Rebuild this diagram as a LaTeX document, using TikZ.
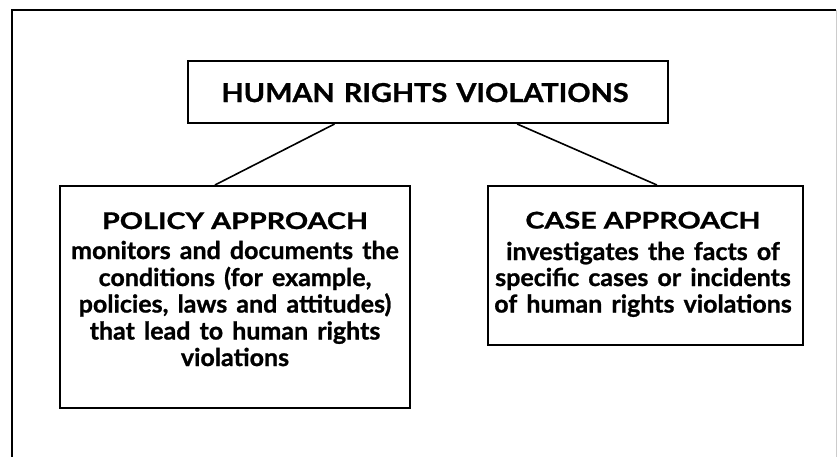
\documentclass[tikz,border=0pt]{standalone}
\usepackage{fontspec}
\setmainfont{Lato}
\newfontfamily\titlefam{Lato}[FakeStretch=1.11, WordSpace=1.3, BoldFeatures={FakeBold=1}]
\newfontfamily\headfam{Lato}[FakeStretch=1.25, BoldFeatures={FakeBold=1}]
\newfontfamily\bodyfam{Lato}[FakeStretch=1.02, WordSpace=1.5, BoldFeatures={FakeBold=1}]
\newcommand{\titlefnt}{\titlefam\bfseries\fontsize{26}{28}\selectfont}
\newcommand{\headfnt}{\headfam\bfseries\fontsize{23}{26}\selectfont}
\newcommand{\bodyfnt}{\bodyfam\bfseries\fontsize{24.5}{26.5}\selectfont}
\usetikzlibrary{calc}
\begin{document}
\begin{tikzpicture}[x=1pt,y=-1pt,
  boxnode/.style={draw=black, line width=2pt, fill=white, inner sep=0pt},
  titletext/.style={anchor=base, inner sep=0pt, font=\titlefnt},
  headtext/.style={anchor=base, inner sep=0pt, font=\headfnt},
  bodytext/.style={anchor=base, inner sep=0pt, font=\bodyfnt},
  link/.style={draw=black, line width=1.6pt}]
\useasboundingbox (0,0) rectangle (837,456);
\fill[white] (0,0) rectangle (837,456);
\draw[line width=2.6pt] (12,470) -- (12,10) -- (836,10);
\draw[black!20, line width=1pt] (836,10) -- (836,470);
% boxes
\node[boxnode, minimum width=480pt, minimum height=62pt] (top) at (428,92) {};
\node[boxnode, minimum width=350pt, minimum height=222pt] (policy) at (235,297) {};
\node[boxnode, minimum width=315pt, minimum height=159pt] (case) at (645.5,265.5) {};
% texts
\node[titletext] (t0) at (425,102) {HUMAN RIGHTS VIOLATIONS};
\node[headtext] (p0) at (235,229) {POLICY APPROACH};
\node[bodytext] (p1) at (235,259) {monitors and documents the};
\node[bodytext] (p2) at (235,286) {conditions (for example,};
\node[bodytext] (p3) at (235,312.5) {policies, laws and attitudes)};
\node[bodytext] (p4) at (235,339.5) {that lead to human rights};
\node[bodytext] (p5) at (235,366) {violations};
\node[headtext] (c0) at (643,228.5) {CASE APPROACH};
\node[bodytext] (c1) at (643,260) {investigates the facts of};
\node[bodytext] (c2) at (643,286) {specific cases or incidents};
\node[bodytext] (c3) at (643,312.5) {of human rights violations};
% connectors
\draw[link] ($(top.south west)!0.306!(top.south east)$) -- ($(policy.north west)!0.443!(policy.north east)$);
\draw[link] ($(top.south west)!0.685!(top.south east)$) -- ($(case.north west)!0.536!(case.north east)$);
\end{tikzpicture}
\end{document}
